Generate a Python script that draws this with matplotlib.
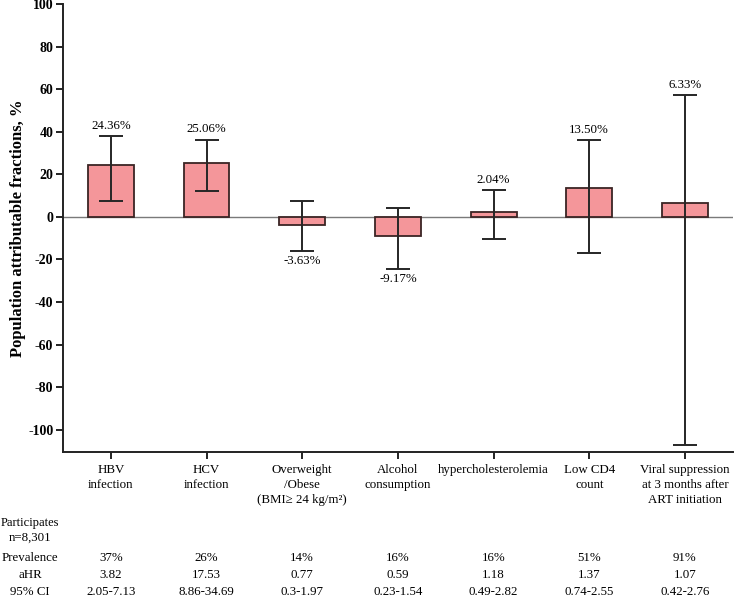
import matplotlib
matplotlib.use('Agg')
import matplotlib.pyplot as plt
import matplotlib.transforms as mtransforms

plt.rcParams['font.family'] = ['Liberation Serif', 'DejaVu Serif']
plt.rcParams['axes.unicode_minus'] = False

categories = ['HBV\ninfection', 'HCV\ninfection', 'Overweight\n/Obese\n(BMI\u2265 24 kg/m\u00b2)',
              'Alcohol\nconsumption', 'hypercholesterolemia', 'Low CD4\ncount',
              'Viral suppression\nat 3 months after\nART initiation']
paf = [24.36, 25.06, -3.63, -9.17, 2.04, 13.50, 6.33]
ci_low = [7.6, 12.0, -16.0, -24.4, -10.2, -17.0, -107.0]
ci_high = [38.0, 36.3, 7.5, 4.3, 12.7, 36.2, 57.4]

prevalence = ['37%', '26%', '14%', '16%', '16%', '51%', '91%']
ahr = ['3.82', '17.53', '0.77', '0.59', '1.18', '1.37', '1.07']
ahr_ci = ['2.05-7.13', '8.86-34.69', '0.3-1.97', '0.23-1.54', '0.49-2.82', '0.74-2.55', '0.42-2.76']

fs = 9.3

fig = plt.figure(figsize=(7.35, 6), dpi=100)
ax = fig.add_axes([0.0857, 0.2467, 0.9113, 0.7466])

x = list(range(len(categories)))
err_lo = [p - l for p, l in zip(paf, ci_low)]
err_hi = [h - p for p, h in zip(paf, ci_high)]

ax.bar(x, paf, width=0.48, color='#F4969A', edgecolor='#3a2424', linewidth=1.3, zorder=2)
ax.errorbar(x, paf, yerr=[err_lo, err_hi], fmt='none', ecolor='#262626',
            elinewidth=1.4, capsize=8.5, capthick=1.4, zorder=3)
ax.axhline(0, color='#7a7a7a', linewidth=1.0, zorder=1)

for i, p in enumerate(paf):
    if p >= 0:
        ax.annotate(f'{p:.2f}%', (i, ci_high[i]), xytext=(0, 3), textcoords='offset points',
                    ha='center', va='bottom', fontsize=fs)
    else:
        ax.annotate(f'{p:.2f}%', (i, ci_low[i]), xytext=(0, -3), textcoords='offset points',
                    ha='center', va='top', fontsize=fs)

ax.set_xlim(-0.5, 6.5)
ax.set_ylim(-110.5, 100)
ax.set_yticks(range(-100, 101, 20))
ax.set_xticks(x)
ax.set_xticklabels(categories, fontsize=fs, linespacing=1.3)
for lab in ax.get_yticklabels():
    lab.set_fontweight('bold')
    lab.set_fontsize(10)
ax.tick_params(axis='both', direction='out', length=5, width=1.4, color='#222222')
ax.tick_params(axis='x', pad=4)
ax.tick_params(axis='y', pad=2)
ax.spines['top'].set_visible(False)
ax.spines['right'].set_visible(False)
ax.spines['left'].set_linewidth(1.4)
ax.spines['bottom'].set_linewidth(1.4)
ax.spines['left'].set_color('#222222')
ax.spines['bottom'].set_color('#222222')
ax.set_ylabel('Population attributable fractions, %', fontweight='bold', fontsize=12)
ax.yaxis.set_label_coords(-37 / 670, 0.5)

# table rows below the chart
trans = mtransforms.blended_transform_factory(ax.transData, fig.transFigure)
fig.text(30 / 735, 1 - 523 / 600, 'Participates', ha='center', va='center', fontsize=9)
fig.text(30 / 735, 1 - 538 / 600, 'n=8,301', ha='center', va='center', fontsize=fs)
rows = [('Prevalence', prevalence, 558), ('aHR', ahr, 575), ('95% CI', ahr_ci, 592)]
for name, vals, ypix in rows:
    fig.text(30 / 735, 1 - ypix / 600, name, ha='center', va='center', fontsize=fs)
    for i, v in enumerate(vals):
        ax.text(i, 1 - ypix / 600, v, transform=trans, ha='center', va='center', fontsize=fs)

fig.savefig('out.png', dpi=100)
